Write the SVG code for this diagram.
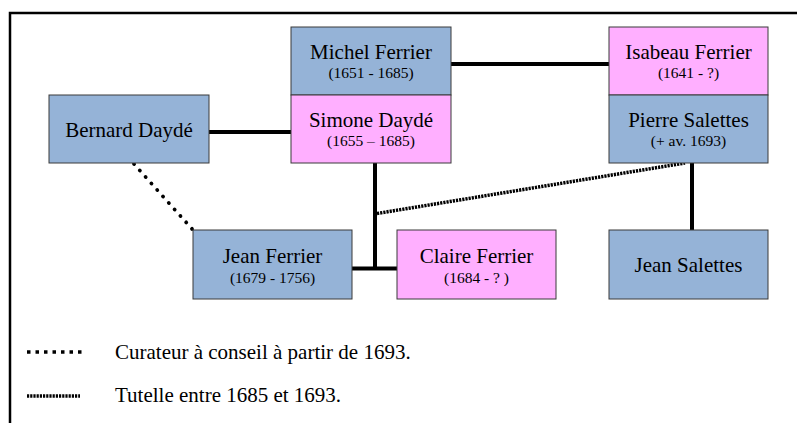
<svg xmlns="http://www.w3.org/2000/svg" width="797" height="423" viewBox="0 0 797 423">
<style>
.blue{fill:#95B3D7;stroke:#3a3a3a;stroke-width:1}
.pink{fill:#FFAFFF;stroke:#3a3a3a;stroke-width:1}
text{font-family:'Liberation Serif','Times New Roman',serif;fill:#000}
.name{font-size:21px;text-anchor:middle}
.date{font-size:15.5px;text-anchor:middle}
.leg{font-size:21px}
.solid{stroke:#000;stroke-width:4;fill:none}
.dot{stroke:#000;stroke-width:3.5;fill:none;stroke-dasharray:3.5 5}
.rdot{stroke:#000;stroke-width:3.8;fill:none;stroke-linecap:round;stroke-dasharray:0.1 8.6}
.dash{stroke:#000;stroke-width:3.5;fill:none;stroke-dasharray:2.2 1}
</style>
<rect width="797" height="423" fill="#fff"/>
<path d="M10,423 V13 H797" fill="none" stroke="#000" stroke-width="2.5"/>
<g id="connectors">
<line class="solid" x1="209" y1="132" x2="291" y2="132"/>
<line class="solid" x1="451" y1="64" x2="609" y2="64"/>
<line class="solid" x1="375" y1="163" x2="375" y2="268.5"/>
<line class="solid" x1="352" y1="268.5" x2="397" y2="268.5"/>
<line class="solid" x1="692" y1="163" x2="692" y2="230"/>
<line class="rdot" x1="134" y1="164" x2="193" y2="230"/>
<line class="dash" x1="377" y1="213.5" x2="685" y2="163"/>
</g>
<g id="michel"><rect class="blue" x="291" y="27" width="160" height="68"/><text class="name" x="371" y="59">Michel Ferrier</text><text class="date" x="371" y="78">(1651 - 1685)</text></g>
<g id="simone"><rect class="pink" x="291" y="95" width="160" height="68"/><text class="name" x="371" y="127">Simone Daydé</text><text class="date" x="371" y="146">(1655 – 1685)</text></g>
<g id="bernard"><rect class="blue" x="49" y="95" width="160" height="68"/><text class="name" x="129" y="137">Bernard Daydé</text></g>
<g id="isabeau"><rect class="pink" x="609" y="27" width="159" height="68"/><text class="name" x="688.5" y="59">Isabeau Ferrier</text><text class="date" x="688.5" y="78">(1641 - ?)</text></g>
<g id="pierre"><rect class="blue" x="609" y="95" width="159" height="68"/><text class="name" x="688.5" y="127">Pierre Salettes</text><text class="date" x="688.5" y="146">(+ av. 1693)</text></g>
<g id="jeanf"><rect class="blue" x="193" y="230" width="159" height="69"/><text class="name" x="272.5" y="263">Jean Ferrier</text><text class="date" x="272.5" y="283">(1679 - 1756)</text></g>
<g id="claire"><rect class="pink" x="397" y="230" width="159" height="69"/><text class="name" x="476.5" y="263">Claire Ferrier</text><text class="date" x="476.5" y="283">(1684 - ? )</text></g>
<g id="jeans"><rect class="blue" x="609" y="230" width="159" height="69"/><text class="name" x="688.5" y="272">Jean Salettes</text></g>
<g id="legend">
<line class="dot" x1="27" y1="352" x2="85" y2="352"/>
<text class="leg" x="115" y="359">Curateur à conseil à partir de 1693.</text>
<line class="dash" x1="27" y1="396" x2="80" y2="396"/>
<text class="leg" x="115" y="402">Tutelle entre 1685 et 1693.</text>
</g>
</svg>
